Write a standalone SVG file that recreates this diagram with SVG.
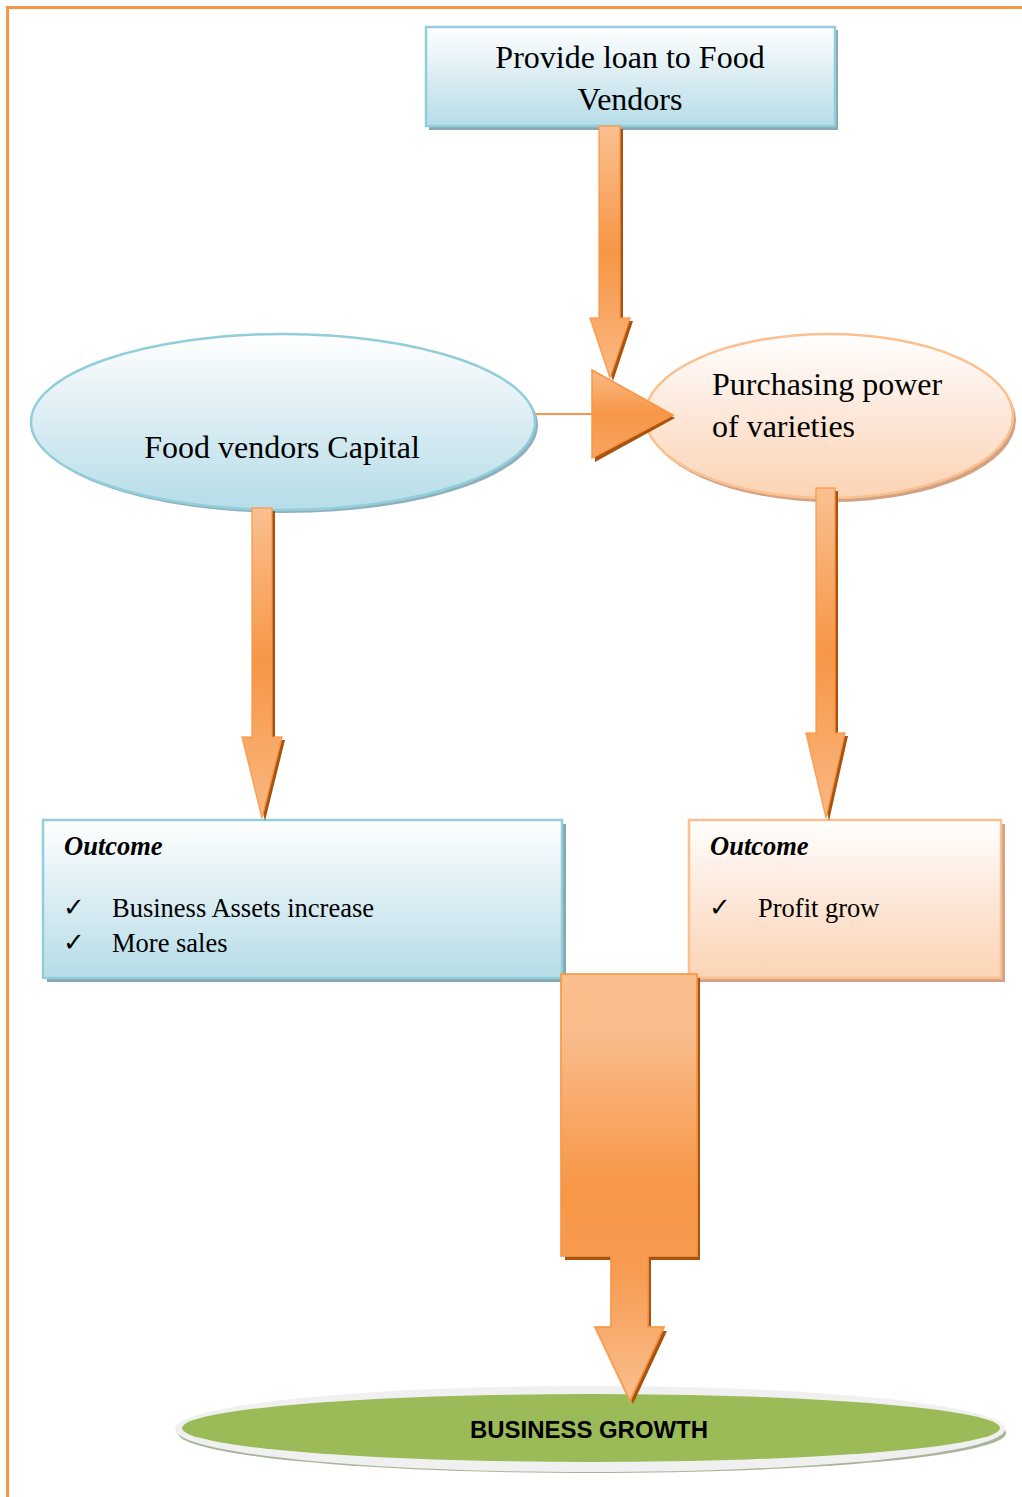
<svg xmlns="http://www.w3.org/2000/svg" width="1022" height="1497" viewBox="0 0 1022 1497">
<defs>
<linearGradient id="gBlue" x1="0" y1="0" x2="0" y2="1">
<stop offset="0" stop-color="#ffffff"/><stop offset="0.45" stop-color="#deeef4"/><stop offset="1" stop-color="#b6dde8"/>
</linearGradient>
<linearGradient id="gPeach" x1="0" y1="0" x2="0" y2="1">
<stop offset="0" stop-color="#ffffff"/><stop offset="0.45" stop-color="#fde9dc"/><stop offset="1" stop-color="#fbd4b4"/>
</linearGradient>
<linearGradient id="gArrow" x1="0" y1="0" x2="0" y2="1">
<stop offset="0" stop-color="#fac090"/><stop offset="0.5" stop-color="#f79646"/><stop offset="1" stop-color="#fab882"/>
</linearGradient>
<linearGradient id="gBig" x1="0" y1="0" x2="0" y2="1">
<stop offset="0" stop-color="#fabf8f"/><stop offset="0.15" stop-color="#f9bb89"/><stop offset="0.5" stop-color="#f79646"/><stop offset="0.7" stop-color="#f79c52"/><stop offset="1" stop-color="#fabf8f"/>
</linearGradient>
<linearGradient id="gTri" x1="0" y1="0" x2="0" y2="1">
<stop offset="0" stop-color="#fabb88"/><stop offset="0.5" stop-color="#f79646"/><stop offset="1" stop-color="#f8a564"/>
</linearGradient>
</defs>
<style>
.serif{font-family:"Liberation Serif","Times New Roman",serif;fill:#000}
.big{font-size:32px}
.mid{font-size:26.5px}
.hd{font-size:26.5px;font-weight:bold;font-style:italic}
.chk{font-family:"DejaVu Sans",sans-serif;font-size:26px;fill:#000}
.arrow{fill:url(#gArrow);stroke:#f79646;stroke-width:1.5;stroke-opacity:0.8}
.ashadow{fill:#a9530f}
.bluebox{fill:url(#gBlue);stroke:#92cddc;stroke-width:2.5}
.bluesh{fill:#88a7b2}
.peachbox{fill:url(#gPeach);stroke:#fac090;stroke-width:2.5}
.peachsh{fill:#d1a283}
</style>

<!-- page border -->
<path d="M7.5,1497 L7.5,7.5 L1022,7.5" fill="none" stroke="#f79646" stroke-width="3"/>

<g id="node-loan">
<rect class="bluesh" x="429" y="30" width="409" height="100"/>
<rect class="bluebox" x="426" y="27" width="409" height="99"/>
<text class="serif big" x="630" y="68" text-anchor="middle">Provide loan to Food</text>
<text class="serif big" x="630" y="110" text-anchor="middle">Vendors</text>
</g>

<g id="node-capital">
<ellipse cx="286" cy="425" rx="252" ry="88" fill="#8fb0bb"/>
<ellipse cx="283" cy="422" rx="252" ry="88" class="bluebox"/>
<text class="serif big" x="282" y="458" text-anchor="middle">Food vendors Capital</text>
</g>

<g id="node-purchasing">
<ellipse cx="832" cy="420" rx="184" ry="82" fill="#d1a283"/>
<ellipse cx="829" cy="416" rx="184" ry="82" class="peachbox"/>
<text class="serif big" x="712" y="395">Purchasing power</text>
<text class="serif big" x="712" y="437">of varieties</text>
</g>

<g id="node-outcome-left">
<rect class="bluesh" x="47" y="824" width="519" height="158"/>
<rect class="bluebox" x="43" y="820" width="519" height="158"/>
<text class="serif hd" x="64" y="855">Outcome</text>
<text class="chk" x="63" y="916">✓</text>
<text class="serif mid" x="112" y="917">Business Assets increase</text>
<text class="chk" x="63" y="951">✓</text>
<text class="serif mid" x="112" y="952">More sales</text>
</g>

<g id="node-outcome-right">
<rect class="peachsh" x="693" y="824" width="312" height="158"/>
<rect class="peachbox" x="689" y="820" width="312" height="158"/>
<text class="serif hd" x="710" y="855">Outcome</text>
<text class="chk" x="709" y="916">✓</text>
<text class="serif mid" x="758" y="917">Profit grow</text>
</g>

<g id="node-growth">
<ellipse cx="592" cy="1433" rx="414" ry="40" fill="#a9b59a"/>
<ellipse cx="590" cy="1429" rx="415" ry="43" fill="#f0f0f0"/>
<ellipse cx="591" cy="1428" rx="409" ry="34" fill="#9bbb59"/>
<text x="589" y="1438" text-anchor="middle" font-family="'Liberation Sans',Arial,sans-serif" font-weight="bold" font-size="24" textLength="238" lengthAdjust="spacingAndGlyphs" fill="#000">BUSINESS GROWTH</text>
</g>

<g id="node-merge-arrow">
<path class="ashadow" d="M565,978 L700,978 L700,1260 L651,1260 L651,1331 L667,1331 L633,1404 L598,1331 L614,1331 L614,1260 L565,1260 Z"/>
<path d="M561,974 L697,974 L697,1256 L648,1256 L648,1327 L664,1327 L630,1401 L595,1327 L611,1327 L611,1256 L561,1256 Z" fill="url(#gBig)" stroke="#f79646" stroke-width="2" stroke-opacity="0.85"/>
</g>

<g id="connectors">
<!-- top arrow -->
<path class="ashadow" d="M602,129 L623,129 L623,321 L633,321 L613,381 L593,321 L602,321 Z"/>
<path class="arrow" d="M599,126 L620,126 L620,318 L630,318 L610,378 L590,318 L599,318 Z"/>
<!-- horizontal connector -->
<line x1="535" y1="414" x2="593" y2="414" stroke="#f79646" stroke-width="2"/>
<path class="ashadow" d="M594,373 L675,418 L595,462 Z"/>
<path d="M592,370 L673,415 L592,458 Z" fill="url(#gTri)" stroke="#f79646" stroke-width="1.5"/>
<!-- left arrow -->
<path class="ashadow" d="M255,511 L275,511 L275,740 L285,740 L265,821 L245,740 L255,740 Z"/>
<path class="arrow" d="M252,508 L272,508 L272,737 L282,737 L262,818 L242,737 L252,737 Z"/>
<!-- right arrow -->
<path class="ashadow" d="M819,491 L838,491 L838,736 L848,736 L829,821 L809,736 L819,736 Z"/>
<path class="arrow" d="M816,488 L835,488 L835,733 L845,733 L826,818 L806,733 L816,733 Z"/>
</g>
</svg>
